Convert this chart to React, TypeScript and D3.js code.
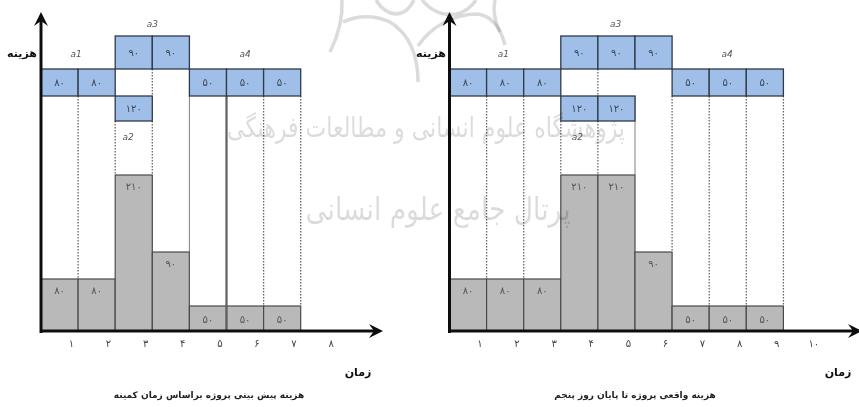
import * as d3 from 'd3'

const planTicks = ['۱', '۲', '۳', '۴', '۵', '۶', '۷', '۸']
const planTop = [null, null, 90, 90, null, null, null]
const planMid = [80, 80, null, null, 50, 50, 50]
const planLow = [null, null, 120, null, null, null, null]
const planTotal = [80, 80, 210, 90, 50, 50, 50]

const actualTicks = ['۱', '۲', '۳', '۴', '۵', '۶', '۷', '۸', '۹', '۱۰']
const actualTop = [null, null, null, 90, 90, 90, null, null, null]
const actualMid = [80, 80, 80, null, null, null, 50, 50, 50]
const actualLow = [null, null, null, 120, 120, null, null, null, null]
const actualTotal = [80, 80, 80, 210, 210, 90, 50, 50, 50]

const rows = ['top', 'mid', 'low']
const GREY = '#b9b9b9'
const BLUE = '#9fbfe9'
const EDGE = '#2f3a48'

// the picture is schematic: heights are not proportional, so the scale is piecewise
const costY = d3.scaleLinear().domain([0, 50, 80, 90, 210]).range([331, 306, 279, 252, 175])
const rowTop = d3.scaleOrdinal<string, number>().domain(rows).range([36, 69, 96])
const rowBottom = d3.scaleOrdinal<string, number>().domain(rows).range([69, 96, 121])

const fa = (v: number) => String(v).replace(/\d/g, d => '۰۱۲۳۴۵۶۷۸۹'[+d])

interface PanelProps {
  x0: number
  ticks: string[]
  top: (number | null)[]
  mid: (number | null)[]
  low: (number | null)[]
  total: number[]
  axisEnd: number
  labels: { t: string; day: number; y: number }[]
  dotted: { day: number; y1: number; y2: number }[]
  solid: { day: number; y1: number; y2: number; w: number }[]
  costX: number
  timeX: number
  title: string
  titleX: number
}

function Panel(p: PanelProps) {
  const x = d3.scaleLinear().domain([0, 1]).range([p.x0, p.x0 + 37.1])
  const yBase = costY(0)
  const blue = (vals: (number | null)[], row: string) =>
    vals.map((v, i) =>
      v == null ? null : (
        <g key={row + i}>
          <rect x={x(i)} y={rowTop(row)} width={x(1) - x(0)} height={rowBottom(row) - rowTop(row)} fill={BLUE} stroke={EDGE} strokeWidth={1.3} />
          <text x={x(i + 0.5)} y={(rowTop(row) + rowBottom(row)) / 2 + 3.5} textAnchor="middle" fontSize={10} fill="#3b4654">{fa(v)}</text>
        </g>
      ),
    )
  return (
    <g>
      {p.dotted.map((d, i) => (
        <line key={i} x1={x(d.day)} x2={x(d.day)} y1={d.y1} y2={d.y2} stroke="#666" strokeWidth={1.3} strokeDasharray="1.5 1.5" />
      ))}
      {p.total.map((v, i) => (
        <g key={i}>
          <rect x={x(i)} y={costY(v)} width={x(1) - x(0)} height={yBase - costY(v)} fill={GREY} stroke="#4a4a4a" strokeWidth={1.2} />
          <text x={x(i + 0.5)} y={costY(v) + (v === 50 ? 17 : 15)} textAnchor="middle" fontSize={10} fill="#555">{fa(v)}</text>
        </g>
      ))}
      {p.solid.map((d, i) => (
        <line key={i} x1={x(d.day)} x2={x(d.day)} y1={d.y1} y2={d.y2} stroke="#5f5f5f" strokeWidth={d.w} />
      ))}
      {blue(p.top, 'top')}
      {blue(p.mid, 'mid')}
      {blue(p.low, 'low')}
      {p.labels.map(l => (
        <text key={l.t + l.day} x={x(l.day)} y={l.y} textAnchor="middle" fontSize={9} fontStyle="italic" fill="#555">{l.t}</text>
      ))}
      {p.ticks.map((t, i) => (
        <text key={i} x={x(i + 0.82)} y={347} textAnchor="middle" fontSize={10} fill="#444">{t}</text>
      ))}
      <line x1={p.x0} x2={p.x0} y1={18} y2={yBase + 2} stroke="#111" strokeWidth={3} />
      <path d={d3.line()([[p.x0 - 7, 26], [p.x0, 12], [p.x0 + 7, 26], [p.x0, 21]])! + 'Z'} fill="#111" />
      <line x1={p.x0} x2={p.axisEnd - 6} y1={yBase} y2={yBase} stroke="#111" strokeWidth={3} />
      <path d={d3.line()([[p.axisEnd - 14, yBase - 7], [p.axisEnd, yBase], [p.axisEnd - 14, yBase + 7], [p.axisEnd - 9, yBase]])! + 'Z'} fill="#111" />
      <text x={p.costX} y={57} textAnchor="middle" fontSize={11} fontWeight="bold" fill="#111">هزینه</text>
      <text x={p.timeX} y={376} textAnchor="middle" fontSize={11} fontWeight="bold" fill="#111">زمان</text>
      <text x={p.titleX} y={398} textAnchor="middle" fontSize={9} fontWeight="bold" fill="#222">{p.title}</text>
    </g>
  )
}

export default function App() {
  return (
    <svg width={859} height={407} style={{ position: 'absolute', left: 0, top: 0, background: '#fff', fontFamily: 'DejaVu Sans' }}>
      <defs>
        <filter id="soft"><feGaussianBlur stdDeviation="0.55" /></filter>
      </defs>
      <g filter="url(#soft)">
        {/* watermark */}
        <g fill="none" stroke="#000" strokeOpacity={0.14} strokeWidth={3.5}>
          <path d="M342 0 C343 20 338 36 330 52" />
          <path d="M343 22 C360 14 385 14 400 30 C412 42 418 60 418 82" />
          <path d="M376 0 C382 10 390 14 396 14 C404 14 410 8 414 0" />
          <path d="M418 46 C430 28 452 14 478 14 C490 16 500 26 505 45" />
          <path d="M422 0 C432 12 444 16 456 14 C466 12 472 6 476 0" />
          <path d="M495 0 C492 14 496 24 500 32" />
        </g>
        <Panel
          x0={41} ticks={planTicks} top={planTop} mid={planMid} low={planLow} total={planTotal} axisEnd={383}
          labels={[{ t: 'a1', day: 0.95, y: 57 }, { t: 'a3', day: 3, y: 27 }, { t: 'a4', day: 5.5, y: 57 }, { t: 'a2', day: 2.35, y: 140 }]}
          dotted={[
            { day: 1, y1: 96, y2: 279 }, { day: 2, y1: 121, y2: 175 }, { day: 3, y1: 69, y2: 96 }, { day: 3, y1: 121, y2: 175 },
            { day: 6, y1: 96, y2: 306 }, { day: 7, y1: 96, y2: 306 },
          ]}
          solid={[{ day: 4, y1: 96, y2: 306, w: 0.8 }, { day: 5, y1: 69, y2: 331, w: 2.2 }]}
          costX={22} timeX={358} title="هزینه پیش بینی پروژه براساس زمان کمینه" titleX={209}
        />
        <Panel
          x0={449.5} ticks={actualTicks} top={actualTop} mid={actualMid} low={actualLow} total={actualTotal} axisEnd={862}
          labels={[{ t: 'a1', day: 1.45, y: 57 }, { t: 'a3', day: 4.48, y: 27 }, { t: 'a4', day: 7.48, y: 57 }, { t: 'a2', day: 3.45, y: 140 }]}
          dotted={[
            { day: 1, y1: 96, y2: 279 }, { day: 2, y1: 96, y2: 279 }, { day: 3, y1: 121, y2: 175 }, { day: 4, y1: 69, y2: 96 }, { day: 4, y1: 121, y2: 175 },
            { day: 6, y1: 96, y2: 252 }, { day: 7, y1: 96, y2: 306 }, { day: 8, y1: 96, y2: 306 }, { day: 9, y1: 96, y2: 306 },
          ]}
          solid={[{ day: 5, y1: 96, y2: 175, w: 0.8 }]}
          costX={431} timeX={838} title="هزینه واقعی پروژه تا پایان روز پنجم" titleX={635}
        />
        <g fill="#000" fillOpacity={0.14} fontFamily="DejaVu Sans">
          <text x={426} y={137} textAnchor="middle" fontSize={28} textLength={398} lengthAdjust="spacingAndGlyphs">پژوهشگاه علوم انسانی و مطالعات فرهنگی</text>
          <text x={438} y={220} textAnchor="middle" fontSize={32} textLength={265} lengthAdjust="spacingAndGlyphs">پرتال جامع علوم انسانی</text>
        </g>
      </g>
    </svg>
  )
}
